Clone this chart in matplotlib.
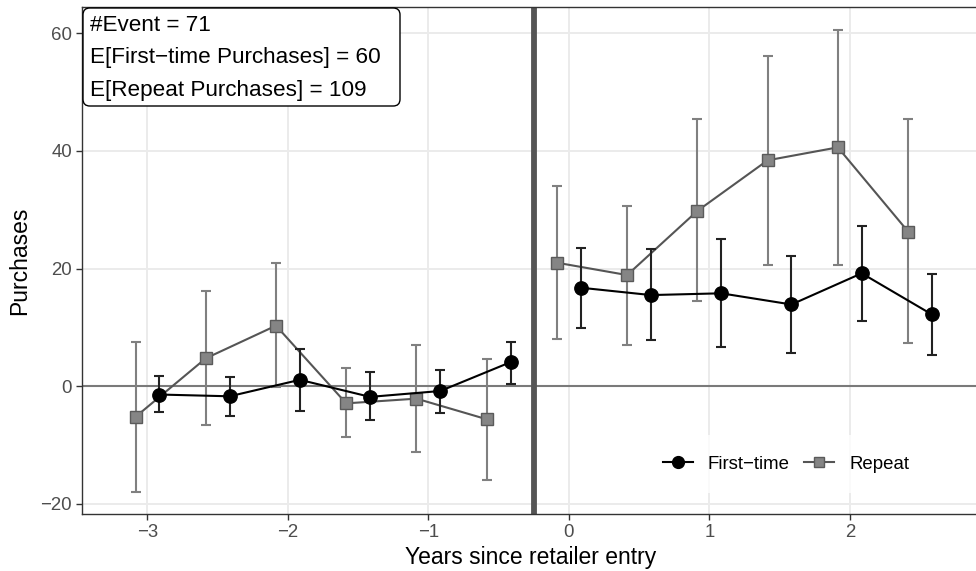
import numpy as np
import matplotlib
matplotlib.use("Agg")
import matplotlib.pyplot as plt
from matplotlib.lines import Line2D
from matplotlib.patches import FancyBboxPatch

plt.rcParams['font.family'] = ['Liberation Sans', 'DejaVu Sans']

# Event-time periods (years since retailer entry)
periods = [-3.0, -2.5, -2.0, -1.5, -1.0, -0.5, 0.0, 0.5, 1.0, 1.5, 2.0, 2.5]

# First-time purchases: estimate and 95% interval
first_est = [-1.4, -1.7, 1.1, -1.8, -0.8, 4.1, 16.75, 15.5, 15.8, 13.9, 19.2, 12.2]
first_lo = [-4.3, -5.0, -4.25, -5.8, -4.5, 0.45, 9.85, 7.8, 6.6, 5.65, 11.1, 5.4]
first_hi = [1.7, 1.6, 6.3, 2.4, 2.8, 7.6, 23.45, 23.3, 25.0, 22.2, 27.2, 19.1]

# Repeat purchases: estimate and 95% interval
repeat_est = [-5.2, 4.75, 10.3, -2.9, -2.1, -5.6, 21.0, 18.9, 29.8, 38.4, 40.6, 26.3]
repeat_lo = [-17.9, -6.6, -0.1, -8.7, -11.2, -15.9, 8.0, 7.0, 14.5, 20.6, 20.6, 7.3]
repeat_hi = [7.6, 16.2, 21.0, 3.1, 7.0, 4.6, 34.0, 30.7, 45.4, 56.1, 60.5, 45.4]

series_labels = ["First\u2212time", "Repeat"]
annotation_lines = ["#Event = 71",
                    "E[First\u2212time Purchases] = 60",
                    "E[Repeat Purchases] = 109"]
entry_line = -0.25
x_ticks = [-3, -2, -1, 0, 1, 2]
y_ticks = [-20, 0, 20, 40, 60]

dodge = 0.085
TICK_FS = 13.4
TITLE_FS = 16.5

W, H = 976, 571
fig = plt.figure(figsize=(W / 100, H / 100), dpi=100)
ax = fig.add_axes([82 / W, 1 - 513.7 / H, (979 - 82) / W, (513.7 - 7.3) / H])


def fig_px(x, y):
    """Figure fraction from pixel position measured from the top-left corner."""
    return x / W, 1 - y / H


x = np.array(periods)
f_est, f_lo, f_hi = map(np.array, (first_est, first_lo, first_hi))
r_est, r_lo, r_hi = map(np.array, (repeat_est, repeat_lo, repeat_hi))

# grid
for t in x_ticks:
    ax.axvline(t, color="#EBEBEB", lw=1.4, zorder=0)
for t in y_ticks:
    ax.axhline(t, color="#EBEBEB", lw=1.4, zorder=0)

ax.axhline(0, color="#7a7a7a", lw=1.5, zorder=1)
ax.axvline(entry_line, color="#555555", lw=4.2, zorder=1)

pre = x < entry_line
post = ~pre

# Repeat series
xr = x - dodge
ax.errorbar(xr, r_est, yerr=[r_est - r_lo, r_hi - r_est], fmt="none",
            ecolor="#808080", elinewidth=1.5, capsize=3.9, capthick=1.5, zorder=2)
for m in (pre, post):
    ax.plot(xr[m], r_est[m], color="#555555", lw=1.5, zorder=3)
ax.plot(xr, r_est, ls="none", marker="s", ms=8.5, mfc="#858585", mec="#5a5a5a",
        mew=1.0, zorder=4)

# First-time series
xf = x + dodge
ax.errorbar(xf, f_est, yerr=[f_est - f_lo, f_hi - f_est], fmt="none",
            ecolor="#222222", elinewidth=1.5, capsize=3.9, capthick=1.5, zorder=5)
for m in (pre, post):
    ax.plot(xf[m], f_est[m], color="#000000", lw=1.5, zorder=6)
ax.plot(xf, f_est, ls="none", marker="o", ms=9.6, mfc="#000000", mec="#000000", zorder=7)

ax.set_xlim(-3.466, 2.92)
ax.set_ylim(-21.65, 64.4)
ax.set_xticks(x_ticks)
ax.set_xticklabels([str(t).replace("-", "\u2212") for t in x_ticks])
ax.set_yticks(y_ticks)
ax.set_yticklabels([str(t).replace("-", "\u2212") for t in y_ticks])
ax.tick_params(axis="both", colors="#333333", labelcolor="#4D4D4D",
               labelsize=TICK_FS, length=4.0, width=1.0, pad=3.2)

for s in ax.spines.values():
    s.set_color("#333333")
    s.set_linewidth(1.0)

ax.set_xlabel("Years since retailer entry", fontsize=TITLE_FS, color="black", labelpad=4)
ax.set_ylabel("Purchases", fontsize=TITLE_FS, color="black", labelpad=7)

# legend inside the panel, bottom right
handles = [
    Line2D([], [], color="black", lw=1.5, marker="o", ms=8.5, mfc="black", mec="black"),
    Line2D([], [], color="#555555", lw=1.5, marker="s", ms=7.5, mfc="#858585", mec="#5a5a5a"),
]
leg = fig.legend(handles, series_labels, loc="center", bbox_to_anchor=fig_px(786, 464),
                 ncol=2, frameon=True, fontsize=TICK_FS, handlelength=1.6,
                 handletextpad=0.8, columnspacing=0.8, borderpad=1.1, fancybox=False)
leg.get_frame().set_edgecolor("white")
leg.get_frame().set_facecolor("white")
leg.get_frame().set_linewidth(0)

# annotation box in the top-left corner
x0, y0 = fig_px(83, 106)
x1, y1 = fig_px(400, 8)
box = FancyBboxPatch((x0, y0), x1 - x0, y1 - y0, transform=fig.transFigure,
                     boxstyle="round,pad=0,rounding_size=0.007", fc="white",
                     ec="black", lw=1.0, zorder=10, mutation_aspect=W / H)
fig.add_artist(box)
for line, yc in zip(annotation_lines, (23, 55.5, 88)):
    tx, ty = fig_px(90, yc)
    fig.text(tx, ty, line, ha="left", va="center_baseline", fontsize=16.2,
             color="black", zorder=11)

fig.savefig("out.png", dpi=100)
